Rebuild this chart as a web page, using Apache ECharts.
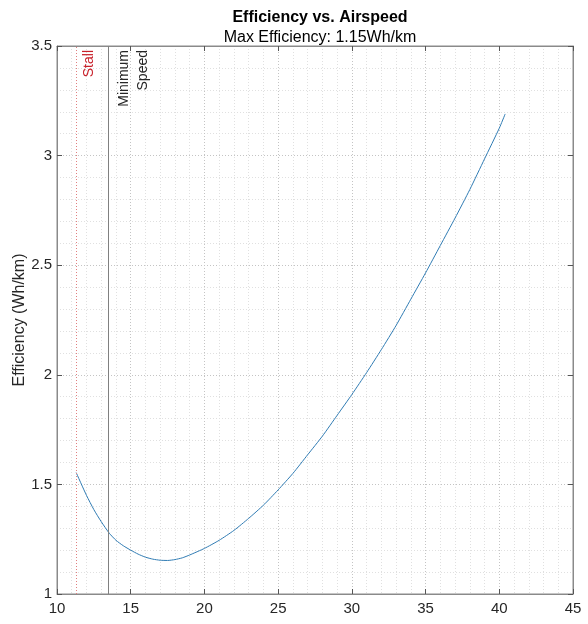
<!DOCTYPE html>
<html>
<head>
<meta charset="utf-8">
<script src="https://cdn.jsdelivr.net/npm/echarts@6/dist/echarts.min.js"></script>
<style>html,body{margin:0;padding:0;background:#fff}#c{width:588px;height:624px}</style>
</head>
<body>
<div id="c"></div>
<script>
const airspeed   = [11.3, 12, 12.5, 13, 13.55, 14, 14.5, 15, 15.5, 16, 16.5, 17, 17.5, 18, 18.5, 19, 20, 21, 22, 23, 24, 25, 26, 27, 28, 29, 30, 31, 32, 33, 34, 35, 36, 37, 38, 39, 40, 40.4];
const efficiency = [1.554, 1.45, 1.385, 1.33, 1.277, 1.245, 1.22, 1.20, 1.182, 1.168, 1.159, 1.154, 1.153, 1.157, 1.165, 1.178, 1.208, 1.245, 1.29, 1.345, 1.405, 1.475, 1.55, 1.635, 1.72, 1.815, 1.91, 2.01, 2.115, 2.225, 2.345, 2.465, 2.59, 2.715, 2.845, 2.985, 3.125, 3.19];
const stallSpeed = 11.3;
const minSpeed = 13.5;
const titleText = 'Efficiency vs. Airspeed';
const subtitleText = 'Max Efficiency: 1.15Wh/km';
const yName = 'Efficiency (Wh/km)';

const font = 'Liberation Sans, Arial, Helvetica, sans-serif';
const chart = echarts.init(document.getElementById('c'), null, {renderer: 'canvas'});
const majorGrid = {show: true, lineStyle: {color: '#c4c4c4', type: [1, 2], width: 1}};
const minorGrid = {show: true, lineStyle: {color: '#e0e0e0', type: [1, 2], width: 1}};
const axisLine = {show: true, lineStyle: {color: '#8a8a8a', width: 1}};
chart.setOption({
  animation: false,
  title: [
    {text: titleText, left: 315, top: 5, textAlign: 'center',
     textStyle: {fontFamily: font, fontSize: 16, fontWeight: 'bold', color: '#000'}},
    {text: subtitleText, left: 315, top: 25, textAlign: 'center',
     textStyle: {fontFamily: font, fontSize: 16, fontWeight: 'normal', color: '#000'}}
  ],
  grid: {left: 57, right: 15, top: 46, bottom: 30, show: true, borderColor: '#8a8a8a', borderWidth: 1,
         containLabel: false, outerBoundsMode: 'none'},
  xAxis: [
    {type: 'value', min: 10, max: 45, interval: 5, position: 'bottom',
     axisLine: axisLine, axisTick: {show: true, inside: true, length: 5, lineStyle: {color: '#555'}},
     axisLabel: {fontFamily: font, fontSize: 15, color: '#262626', margin: 7},
     splitLine: majorGrid, minorTick: {show: false, splitNumber: 5}, minorSplitLine: minorGrid},
    {type: 'value', min: 10, max: 45, interval: 5, position: 'top',
     axisLine: axisLine, axisTick: {show: true, inside: true, length: 5, lineStyle: {color: '#555'}},
     axisLabel: {show: false}, splitLine: {show: false}}
  ],
  yAxis: [
    {type: 'value', min: 1, max: 3.5, interval: 0.5, position: 'left',
     name: yName, nameLocation: 'middle', nameGap: 29, nameMoveOverlap: false,
     nameTextStyle: {fontFamily: font, fontSize: 16, color: '#262626'},
     axisLine: axisLine, axisTick: {show: true, inside: true, length: 5, lineStyle: {color: '#555'}},
     axisLabel: {fontFamily: font, fontSize: 15, color: '#262626', margin: 5},
     splitLine: majorGrid, minorTick: {show: false, splitNumber: 5}, minorSplitLine: minorGrid},
    {type: 'value', min: 1, max: 3.5, interval: 0.5, position: 'right',
     axisLine: axisLine, axisTick: {show: true, inside: true, length: 5, lineStyle: {color: '#555'}},
     axisLabel: {show: false}, splitLine: {show: false}}
  ],
  series: [{
    type: 'line', xAxisIndex: 0, yAxisIndex: 0,
    data: airspeed.map((v, i) => [v, efficiency[i]]),
    smooth: 0.2, showSymbol: false,
    lineStyle: {color: '#2f7bb3', width: 1},
    markLine: {
      silent: true, symbol: 'none',
      data: [
        {xAxis: stallSpeed, lineStyle: {color: '#e08080', type: [1, 2], width: 1},
         label: {show: true, formatter: 'Stall', position: 'insideEndBottom', distance: [4, 6],
                 color: '#c8202a', fontFamily: font, fontSize: 14}},
        {xAxis: minSpeed, lineStyle: {color: '#808080', type: 'solid', width: 1},
         label: {show: true, formatter: 'Minimum\nSpeed', position: 'insideEndBottom', distance: [4, 6],
                 color: '#262626', fontFamily: font, fontSize: 14, lineHeight: 19}}
      ]
    }
  }]
});
</script>
</body>
</html>
